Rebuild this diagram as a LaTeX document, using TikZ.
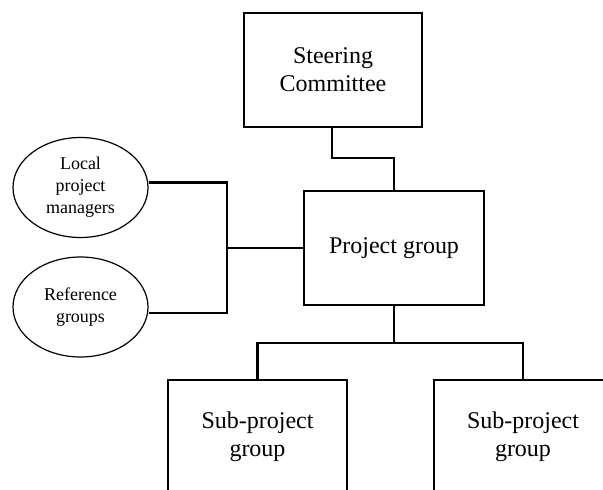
\documentclass[tikz,border=0pt]{standalone}
\usepackage{fontspec}
\setmainfont{Liberation Serif}
\usetikzlibrary{shapes.geometric}
\begin{document}
\begin{tikzpicture}[x=1pt,y=-1pt,
  box/.style={draw=black,line width=1.2pt,rectangle,minimum width=178pt,minimum height=114pt,inner sep=0pt,align=center,font=\fontsize{24}{28}\selectfont},
  oval/.style={draw=black,line width=1.2pt,ellipse,minimum width=135pt,minimum height=100pt,inner sep=0pt,align=center,font=\fontsize{18}{22}\selectfont},
  link/.style={draw=black,line width=2.6pt}]
\useasboundingbox (0,0) rectangle (603,490);
\clip (0,0) rectangle (603,490);
\fill[white] (0,0) rectangle (603,490);

% boxes
\node[box] (sc) at (333,70) {Steering\\Committee};
\node[box,minimum width=180pt] (pg) at (394,248) {Project group};
\node[box,minimum width=179pt] (sp1) at (257.5,437) {Sub-project\\group};
\node[box,minimum width=178pt] (sp2) at (523,437) {Sub-project\\group};

% side groups
\node[oval] (lpm) at (80.5,187.5) {Local\\project\\managers};
\node[oval] (rg) at (80.5,307) {Reference\\groups};

% junction points
\coordinate (j1) at (332,158);
\coordinate (jl) at (227,248);
\coordinate (jb) at (394,343);

% connectors
\draw[link] (sc.south -| j1) -- (j1) -- (j1 -| pg.north) -- (pg.north);
\draw[link] ([yshift=5pt]lpm.east) -| (jl) |- ([yshift=-6pt]rg.east);
\draw[link] (jl) -- (pg.west);
\draw[link] (pg.south) -- (jb);
\draw[link] (sp1.north) |- (jb) -| (sp2.north);
\end{tikzpicture}
\end{document}
